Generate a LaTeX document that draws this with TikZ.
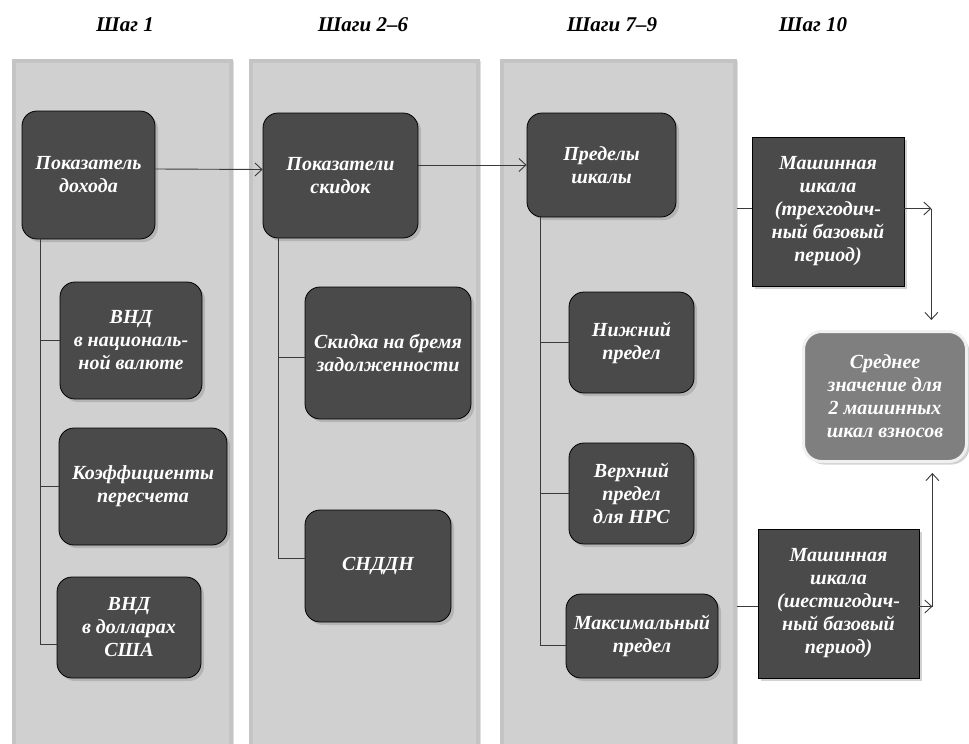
\documentclass[tikz,border=0pt]{standalone}
\usepackage{fontspec}
\setmainfont{Liberation Serif}
\usepackage{tikz}
\usetikzlibrary{calc,positioning,arrows.meta,shadows}
\definecolor{boxgray}{HTML}{4A4A4A}
\definecolor{panelgray}{HTML}{D0D0D0}
\definecolor{paneledge}{HTML}{C4C4C4}
\definecolor{avggray}{HTML}{7F7F7F}
\definecolor{linegray}{HTML}{3A3A3A}
\tikzstyle{panel}  = [rectangle, fill=panelgray, draw=paneledge, line width=4pt, drop shadow={shadow xshift=3pt, shadow yshift=0pt, opacity=0.25}]
\tikzstyle{head}   = [font=\bfseries\itshape\fontsize{21}{24}\selectfont]
\tikzstyle{box}    = [rectangle, rounded corners=15pt, fill=boxgray, draw=black, line width=0.8pt, text=white, align=center, font=\bfseries\itshape\fontsize{20}{23}\selectfont, execute at end node={\\[10pt]}, drop shadow={shadow xshift=3pt, shadow yshift=-3pt, opacity=0.35}]
\tikzstyle{sqbox}  = [box, sharp corners]
\tikzstyle{avgbox} = [box, fill=avggray, draw=gray!12, line width=3pt, rounded corners=18pt]
\tikzstyle{line}   = [draw=linegray, line width=0.9pt]
\tikzstyle{arrow}  = [line, ->, >={Straight Barb[length=7pt,width=13pt]}]

\begin{document}
\begin{tikzpicture}[x=1pt, y=-1pt]
		\useasboundingbox[fill=white] (0,0) rectangle (969,744);

		\node[panel, minimum width=217pt, minimum height=699pt] (p1) at (122.5,410.5) {};
		\node[panel, minimum width=227pt, minimum height=699pt] (p2) at (364.5,410.5) {};
		\node[panel, minimum width=233pt, minimum height=699pt] (p3) at (618.5,410.5) {};

		\node[head] (h1) at (125,25) {Шаг 1};
		\node[head] (h2) at (363,25) {Шаги 2–6};
		\node[head] (h3) at (612,25) {Шаги 7–9};
		\node[head] (h4) at (813,25) {Шаг 10};

		\node[box, minimum width=133pt, minimum height=128pt] (dohod) at (88.5,175) {Показатель\\дохода};
		\node[box, minimum width=142pt, minimum height=117pt] (vndnat) at (131,340.5) {ВНД\\в националь-\\ной валюте};
		\node[box, minimum width=168pt, minimum height=117pt] (koef) at (143,486.5) {Коэффициенты\\пересчета};
		\node[box, minimum width=144pt, minimum height=101pt] (vndusd) at (129,627.5) {ВНД\\в долларах\\США};

		\node[box, minimum width=155pt, minimum height=125pt] (skidok) at (340.5,175.5) {Показатели\\скидок};
		\node[box, minimum width=166pt, minimum height=132pt] (skidka) at (388,353) {Скидка на бремя\\задолженности};
		\node[box, minimum width=146pt, minimum height=112pt] (sndn) at (378,566) {СНДДН};

		\node[box, minimum width=149pt, minimum height=104pt] (predely) at (601.5,165) {Пределы\\шкалы};
		\node[box, minimum width=125pt, minimum height=101pt] (nizh) at (631.5,342.5) {Нижний\\предел};
		\node[box, minimum width=125pt, minimum height=101pt] (verh) at (631.5,493.5) {Верхний\\предел\\для НРС};
		\node[box, minimum width=152pt, minimum height=84pt] (maks) at (642,636) {Максимальный\\предел};

		\node[sqbox, minimum width=152pt, minimum height=149pt] (mash1) at (828,211.5) {Машинная\\шкала\\(трехгодич-\\ный базовый\\период)};
		\node[sqbox, minimum width=161pt, minimum height=149pt] (mash2) at (838.5,603.5) {Машинная\\шкала\\(шестигодич-\\ный базовый\\период)};
		\node[avgbox, minimum width=163pt, minimum height=130pt] (avg) at (885,396.5) {Среднее\\значение для\\2 машинных\\шкал взносов};

		\draw[arrow] ([yshift=6pt]dohod.east) -- ([yshift=6pt]skidok.west);
		\draw[arrow] (skidok.east |- predely.west) -- (predely.west);

		\foreach \leaf/\dy in {vndnat/0, koef/0, vndusd/-17}
			\draw[line] ($(dohod.south west)+(19,0)$) |- ([yshift=\dy pt]\leaf.west);
		\foreach \leaf/\dy in {skidka/-4, sndn/8}
			\draw[line] ($(skidok.south west)+(16,0)$) |- ([yshift=\dy pt]\leaf.west);
		\foreach \leaf/\dy in {nizh/0, verh/0, maks/-9}
			\draw[line] ($(predely.south west)+(14,0)$) |- ([yshift=\dy pt]\leaf.west);

		\draw[line] ([yshift=3pt]mash1.west -| p3.east) -- ([yshift=3pt]mash1.west);
		\draw[arrow] ([yshift=3pt]mash1.east) -- ++(27,0) coordinate (j1);
		\draw[arrow, shorten >=10pt] (j1) -- (j1 |- avg.north);

		\draw[line] ([yshift=-3pt]mash2.west -| p3.east) -- ([yshift=-3pt]mash2.west);
		\draw[arrow] ([yshift=-3pt]mash2.east) -- ++(13,0) coordinate (j2);
		\draw[arrow, shorten >=10pt] (j2) -- (j2 |- avg.south);
	\end{tikzpicture}
\end{document}
